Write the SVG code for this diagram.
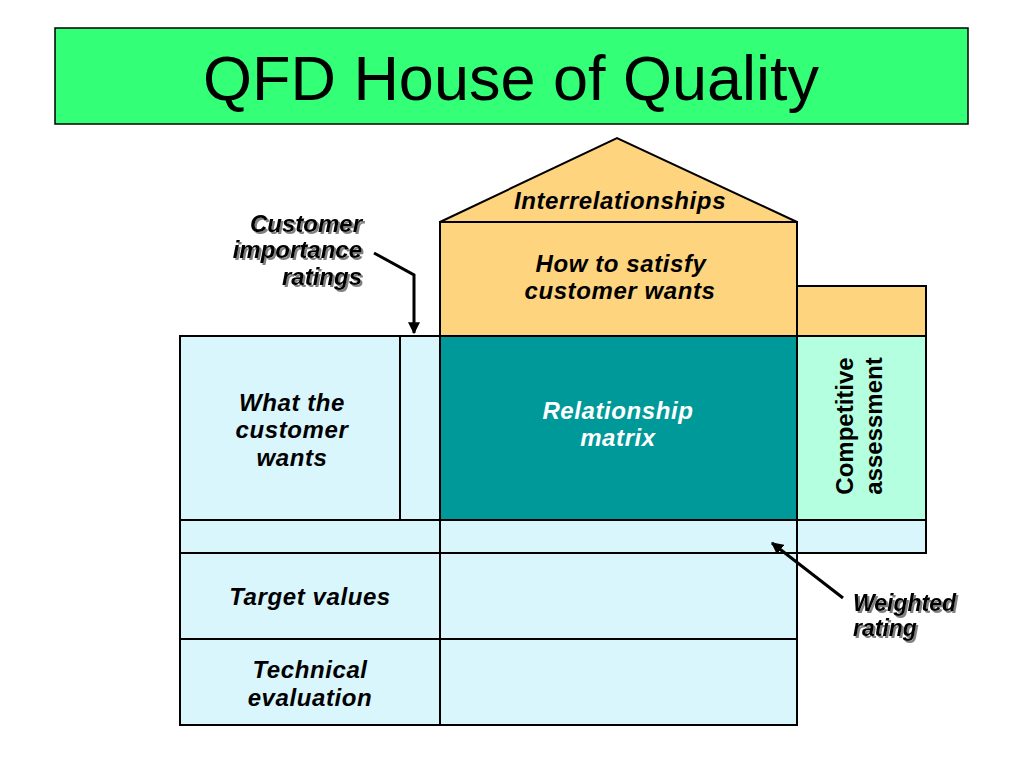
<svg xmlns="http://www.w3.org/2000/svg" width="1024" height="768" viewBox="0 0 1024 768">
<style>
.box{stroke:#000;stroke-width:2}
.blue{fill:#D9F6FD}
.orange{fill:#FFD47F}
.teal{fill:#009999}
.mint{fill:#B3FFDF}
.lbl{font-family:"Liberation Sans",Arial,sans-serif;font-size:24px;font-weight:bold;font-style:italic;fill:#000}
.wide{letter-spacing:0.6px}
.mid{text-anchor:middle}
.white{fill:#fff}
.conn{stroke:#000;stroke-width:3;fill:none}
</style>
<defs>
<filter id="shadow" x="-10%" y="-10%" width="130%" height="140%">
<feDropShadow dx="2" dy="2" stdDeviation="0.6" flood-color="#808080" flood-opacity="1"/>
</filter>
<marker id="arrow" viewBox="0 0 10 10" refX="9" refY="5" markerWidth="4" markerHeight="4" orient="auto" markerUnits="strokeWidth">
<path d="M0,0 L10,5 L0,10 z" fill="#000"/>
</marker>
</defs>
<rect width="1024" height="768" fill="#fff"/>

<g id="title">
<rect x="55" y="28" width="913" height="96" fill="#33FF77" stroke="#000" stroke-width="1.5"/>
<text x="511" y="100" text-anchor="middle" font-family="Liberation Sans,Arial,sans-serif" font-size="63" fill="#000">QFD House of Quality</text>
</g>

<g id="roof">
<polygon points="440,222 617,138 797,222" class="box orange"/>
<text x="620" y="209" class="lbl mid wide">Interrelationships</text>
</g>

<g id="how">
<rect x="440" y="222" width="357" height="114" class="box orange"/>
<text x="621" y="272" class="lbl mid wide">How to satisfy</text>
<text x="620" y="299" class="lbl mid wide">customer wants</text>
</g>

<g id="corner">
<rect x="797" y="286" width="129" height="50" class="box orange"/>
</g>

<g id="what">
<rect x="180" y="336" width="220" height="184" class="box blue"/>
<text x="292" y="411" class="lbl mid wide">What the</text>
<text x="292" y="438" class="lbl mid wide">customer</text>
<text x="292" y="466" class="lbl mid wide">wants</text>
</g>

<g id="importance">
<rect x="400" y="336" width="40" height="184" class="box blue"/>
</g>

<g id="matrix">
<rect x="440" y="336" width="357" height="184" class="box teal"/>
<text x="618" y="419" class="lbl mid white wide">Relationship</text>
<text x="618" y="446" class="lbl mid white wide">matrix</text>
</g>

<g id="competitive">
<rect x="797" y="336" width="129" height="184" class="box mint"/>
<text transform="translate(853,426) rotate(-90)" class="lbl mid" style="font-style:normal">Competitive</text>
<text transform="translate(882,426) rotate(-90)" class="lbl mid" style="font-style:normal">assessment</text>
</g>

<g id="weighted-row">
<rect x="180" y="520" width="260" height="33" class="box blue"/>
<rect x="440" y="520" width="357" height="33" class="box blue"/>
<rect x="797" y="520" width="129" height="33" class="box blue"/>
</g>

<g id="target">
<rect x="180" y="553" width="260" height="86" class="box blue"/>
<rect x="440" y="553" width="357" height="86" class="box blue"/>
<text x="310" y="605" class="lbl mid wide">Target values</text>
</g>

<g id="technical">
<rect x="180" y="639" width="260" height="86" class="box blue"/>
<rect x="440" y="639" width="357" height="86" class="box blue"/>
<text x="310" y="678" class="lbl mid wide">Technical</text>
<text x="310" y="706" class="lbl mid wide">evaluation</text>
</g>

<g id="callout-importance" filter="url(#shadow)">
<text x="362" y="232" class="lbl" text-anchor="end">Customer</text>
<text x="362" y="258" class="lbl" text-anchor="end">importance</text>
<text x="362" y="285" class="lbl" text-anchor="end">ratings</text>
</g>

<g id="callout-weighted" filter="url(#shadow)">
<text x="853" y="611" class="lbl" style="font-size:23px">Weighted</text>
<text x="853" y="636" class="lbl" style="font-size:23px">rating</text>
</g>

<g id="connectors">
<polyline points="374,253 414,275 414,333" class="conn" marker-end="url(#arrow)"/>
<line x1="843" y1="598" x2="772" y2="543" class="conn" marker-end="url(#arrow)"/>
</g>
</svg>
